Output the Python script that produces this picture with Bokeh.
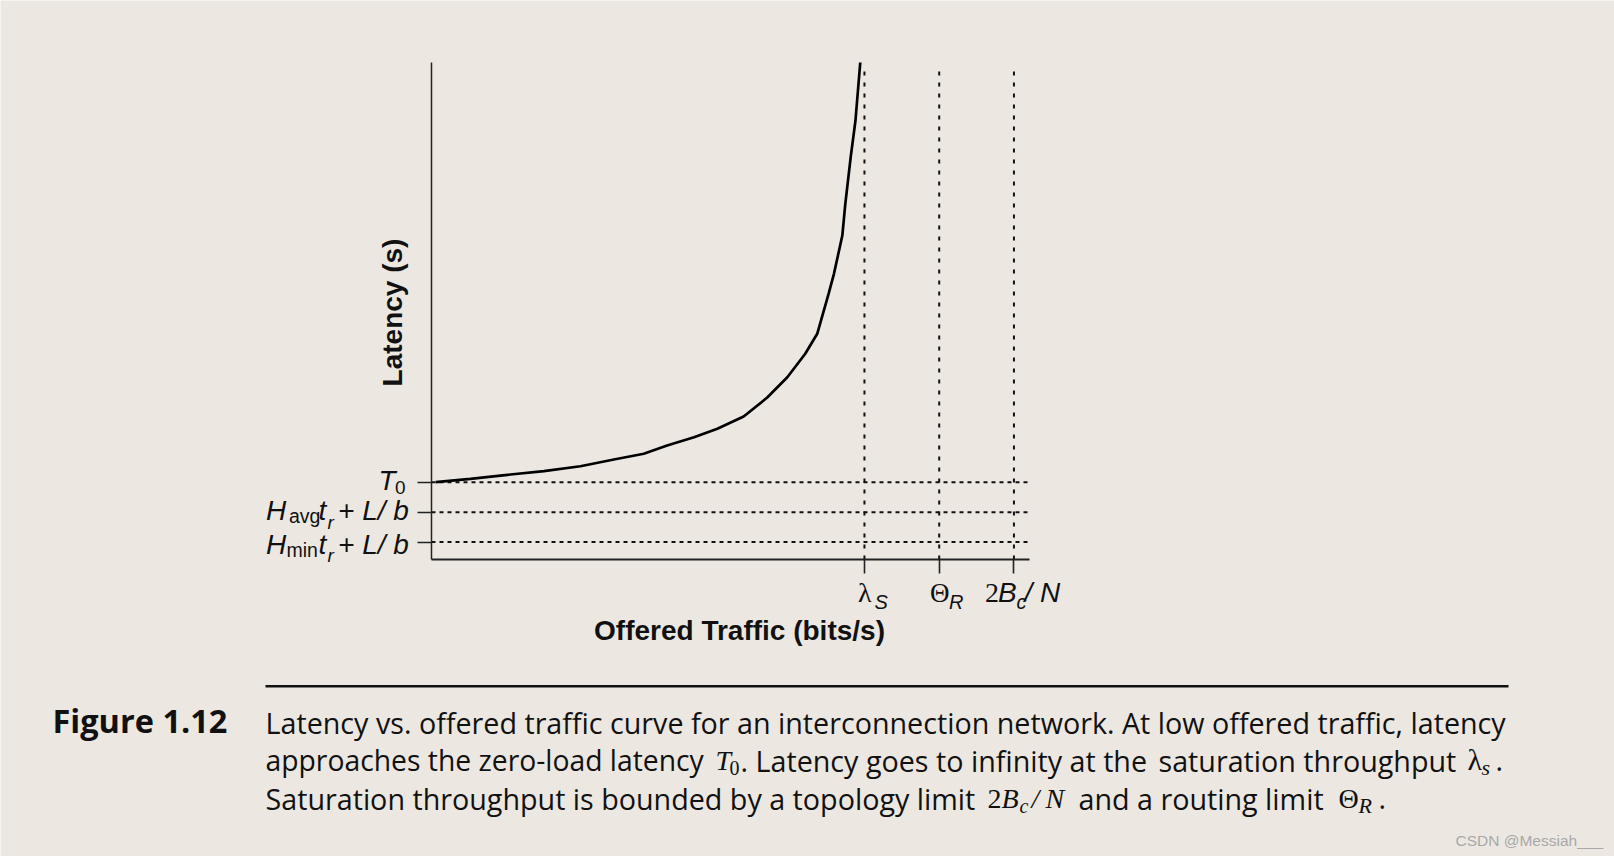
import math
from bokeh.plotting import figure
from bokeh.models import Range1d, FixedTicker, LinearAxis
from bokeh.embed import file_html
from bokeh.resources import INLINE
from bokeh.core.properties import value

# ---------------- data ----------------
traffic = [0.007, 0.065, 0.127, 0.188, 0.249, 0.305, 0.355, 0.394, 0.439, 0.478,
           0.522, 0.561, 0.595, 0.625, 0.645, 0.664, 0.673, 0.687, 0.692, 0.701,
           0.709, 0.717]
latency = [1.555, 1.624, 1.704, 1.777, 1.877, 2.012, 2.127, 2.294, 2.461, 2.630,
           2.877, 3.254, 3.668, 4.139, 4.541, 5.346, 5.748, 6.519, 7.157, 8.095,
           8.833, 10.0]

y_levels = [1.555, 0.95, 0.35]          # T0, Havg tr + L/b, Hmin tr + L/b
y_level_names = ["T0", "Havg tr + L/b", "Hmin tr + L/b"]
x_limits = [0.724, 0.849, 0.974]        # lambda_S, Theta_R, 2Bc/N
x_limit_names = ["λS", "ΘR", "2Bc/N"]
x_axis_end = 1.0
y_axis_end = 10.0
vline_top = 9.88

BG = "#ECE8E1"
INK = "#111111"

# ---------------- page geometry ----------------
W, H = 1614, 856
FL, FR, FT, FB = 431, 1029, 62, 559      # where the axes box sits on the page


def X(px):
    return (px - FL) / (FR - FL) * x_axis_end


def Y(py):
    return (FB - py) / (FB - FT) * y_axis_end


p = figure(width=W, height=H, x_range=Range1d(X(0), X(W)), y_range=Range1d(Y(H), Y(0)),
           toolbar_location=None, output_backend="svg",
           x_axis_type=None, y_axis_type=None, min_border=0)
p.background_fill_color = BG
p.border_fill_color = BG
p.outline_line_color = None
p.grid.visible = False

# axes, pinned at the origin of the data
xaxis = LinearAxis(fixed_location=0, bounds=(0, x_axis_end),
                   ticker=FixedTicker(ticks=x_limits),
                   major_label_overrides={t: "" for t in x_limits})
yaxis = LinearAxis(fixed_location=0, bounds=(0, y_axis_end),
                   ticker=FixedTicker(ticks=y_levels),
                   major_label_overrides={t: "" for t in y_levels})
for ax in (xaxis, yaxis):
    ax.major_tick_in = 0
    ax.major_tick_out = 14
    ax.minor_tick_in = 0
    ax.minor_tick_out = 0
    ax.axis_line_color = "#222222"
    ax.major_tick_line_color = "#222222"
    ax.major_tick_line_width = 1.6
xaxis.axis_line_width = 2
yaxis.axis_line_width = 1.5
p.add_layout(xaxis, "below")
p.add_layout(yaxis, "left")

# dotted reference lines
p.segment(x0=[0] * len(y_levels), y0=y_levels, x1=[0.998] * len(y_levels), y1=y_levels,
          line_color=INK, line_width=2, line_dash="4 4")
p.segment(x0=x_limits, y0=[0] * len(x_limits), x1=x_limits, y1=[vline_top] * len(x_limits),
          line_color=INK, line_width=2, line_dash="4 7")

# latency curve
p.line(traffic, latency, line_color="#000000", line_width=2.7)

SANS = "Liberation Sans"
SERIF = "Liberation Serif"
OPEN = "Open Sans"
BASE_SHIFT = 0.4   # renderer places the anchor this many ems above the baseline


def put(txt, px, py, font, size, style="normal", color=INK, align="left", vertical=False):
    if vertical:
        px = px - BASE_SHIFT * size
        angle = math.pi / 2
    else:
        py = py - BASE_SHIFT * size
        angle = 0.0
    p.text(x=[X(px)], y=[Y(py)], text=[txt], text_font=value(font),
           text_font_size=f"{size}px", text_font_style=style, text_color=color,
           text_align=align, text_baseline="alphabetic", angle=angle)


# axis titles
put("Latency (s)", 403, 312, SANS, 28, "bold", align="center", vertical=True)
put("Offered Traffic (bits/s)", 739, 641, SANS, 28, "bold", align="center")

# tick labels composed of pieces (text, left px, baseline px, font, size, style)
pieces = [
    # T0
    ("T", 378, 490.7, SANS, 28, "italic"),
    ("0", 394.5, 495, SANS, 19, "normal"),
    # Havg tr + L/b
    ("H", 265.5, 521, SANS, 28, "italic"),
    ("avg", 288.5, 523, SANS, 19.5, "normal"),
    ("t", 318, 521, SANS, 28, "italic"),
    ("r", 327, 530, SANS, 19, "italic"),
    ("+ L/ b", 337.5, 521, SANS, 28, "italic"),
    # Hmin tr + L/b
    ("H", 265.5, 555, SANS, 28, "italic"),
    ("min", 286, 557.5, SANS, 19.5, "normal"),
    ("t", 318, 555, SANS, 28, "italic"),
    ("r", 327, 563, SANS, 19, "italic"),
    ("+ L/ b", 337.5, 555, SANS, 28, "italic"),
    # lambda_S
    ("λ", 857.5, 603.3, SERIF, 28, "normal"),
    ("S", 874, 609.3, SANS, 20, "italic"),
    # Theta_R
    ("Θ", 929.5, 603.3, SERIF, 27, "normal"),
    ("R", 948.5, 609.3, SANS, 20, "italic"),
    # 2Bc/N
    ("2", 984.5, 603.3, SERIF, 28, "normal"),
    ("B", 997.5, 603.3, SANS, 28, "italic"),
    ("c", 1016, 609.3, SANS, 20, "italic"),
    ("/ N", 1024, 603.3, SANS, 28, "italic"),
]
for txt, px, py, font, size, style in pieces:
    put(txt, px, py, font, size, style)

# ---------------- caption ----------------
p.segment(x0=[X(265)], y0=[Y(685.7)], x1=[X(1508)], y1=[Y(685.7)],
          line_color=INK, line_width=2.6)

CS = 28.7
cap = [
    ("Figure 1.12", 52, 733.3, OPEN, 32.5, "bold", INK),
    ("Latency vs. offered traffic curve for an interconnection network. At low offered traffic, latency",
     265, 733.3, OPEN, CS, "normal", INK),
    ("approaches the zero-load latency", 265, 771, OPEN, 28.3, "normal", INK),
    ("T", 715, 771, SERIF, 28, "italic", INK),
    ("0", 729, 775, SERIF, 20, "normal", INK),
    (". Latency goes to infinity at the", 740, 771, OPEN, CS, "normal", INK),
    ("saturation throughput", 1158, 771, OPEN, CS, "normal", INK),
    ("λ", 1467, 771, SERIF, 30, "normal", INK),
    ("s", 1481, 775.5, SERIF, 22, "italic", INK),
    (".", 1495, 771, OPEN, CS, "normal", INK),
    ("Saturation throughput is bounded by a topology limit", 265, 809.5, OPEN, CS, "normal", INK),
    ("2", 987, 809.5, SERIF, 28, "normal", INK),
    ("B", 1001, 809.5, SERIF, 28, "italic", INK),
    ("c", 1019, 813.5, SERIF, 20, "italic", INK),
    ("/", 1031, 809.5, SERIF, 28, "italic", INK),
    ("N", 1045, 809.5, SERIF, 28, "italic", INK),
    ("and a routing limit", 1078, 809.5, OPEN, CS, "normal", INK),
    ("Θ", 1338, 809.5, SERIF, 28, "normal", INK),
    ("R", 1358, 814, SERIF, 22, "italic", INK),
    (".", 1378, 809.5, OPEN, CS, "normal", INK),
    ("CSDN @Messiah___", 1455, 846, SANS, 15.5, "normal", "#A8A8A8"),
]
for txt, px, py, font, size, style, col in cap:
    put(txt, px, py, font, size, style, color=col)

open("out.html", "w").write(file_html(p, INLINE))
